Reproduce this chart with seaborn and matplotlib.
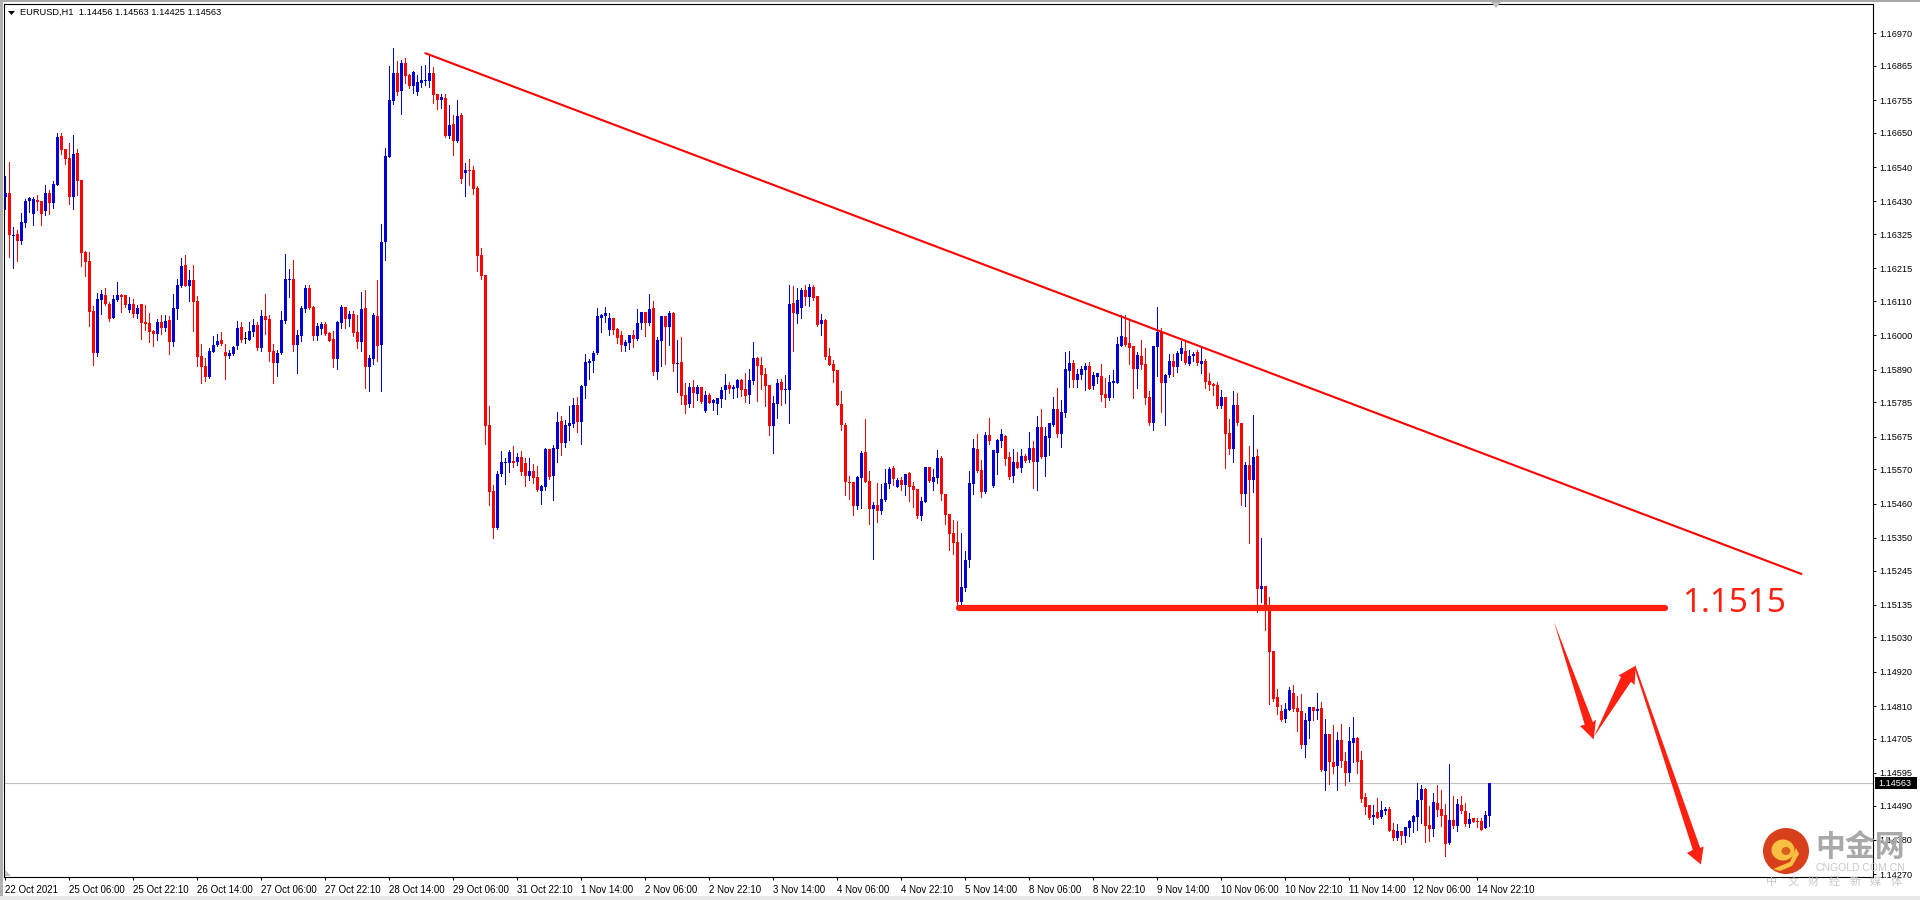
import numpy as np
import pandas as pd
import matplotlib.pyplot as plt
from matplotlib.patches import Polygon, Circle, Ellipse, Rectangle
import seaborn as sns

# EURUSD H1 candles, one line = 16 bars (one x tick)
opens = [
 1.16443,1.16456,1.16319,1.16326,1.16304,1.16362,1.16433,1.16390,1.16435,1.16432,1.16400,1.16457,1.16426,1.16484,1.16640,1.16599,
 1.16570,1.16445,1.16586,1.16499,1.16268,1.16239,1.16078,1.15943,1.16114,1.16130,1.16101,1.16056,1.16114,1.16130,1.16130,1.16081,
 1.16101,1.16069,1.16101,1.16043,1.16040,1.16014,1.16004,1.16043,1.16024,1.16049,1.15979,1.16085,1.16159,1.16226,1.16159,1.16178,
 1.16110,1.15934,1.15902,1.15866,1.15947,1.15969,1.15985,1.15947,1.15934,1.15940,1.15966,1.16027,1.15987,1.15985,1.16011,1.16033,
 1.15959,1.16062,1.16053,1.15950,1.15911,1.15943,1.16046,1.16178,1.16181,1.15969,1.15998,1.16085,1.16152,1.16091,1.15998,1.16020,
 1.16036,1.16008,1.15988,1.15924,1.16040,1.16091,1.16053,1.16069,1.16011,1.15979,1.16088,1.15898,1.15924,1.16062,1.15969,1.16300,
 1.16573,1.16753,1.16843,1.16785,1.16875,1.16836,1.16801,1.16782,1.16810,1.16817,1.16817,1.16843,1.16775,1.16756,1.16762,1.16640,
 1.16679,1.16624,1.16708,1.16521,1.16531,1.16531,1.16473,1.16258,1.16194,1.15712,1.15500,1.15381,1.15555,1.15590,1.15590,1.15596,
 1.15593,1.15609,1.15590,1.15548,1.15564,1.15545,1.15500,1.15513,1.15635,1.15548,1.15635,1.15725,1.15654,1.15709,1.15715,1.15776,
 1.15722,1.15837,1.15911,1.15918,1.15943,1.16056,1.16062,1.16017,1.16056,1.16020,1.16001,1.15966,1.15975,1.16001,1.15988,1.16040,
 1.16075,1.16040,1.16088,1.15882,1.15982,1.16062,1.16027,1.16072,1.15908,1.15914,1.15808,1.15779,1.15834,1.15812,1.15834,1.15757,
 1.15808,1.15783,1.15779,1.15795,1.15824,1.15840,1.15828,1.15831,1.15857,1.15828,1.15808,1.15853,1.15927,1.15905,1.15876,1.15840,
 1.15709,1.15779,1.15850,1.15824,1.15824,1.16104,1.16068,1.16088,1.16146,1.16123,1.16155,1.16126,1.16036,1.16049,1.15934,1.15908,
 1.15889,1.15779,1.15712,1.15529,1.15529,1.15452,1.15542,1.15625,1.15532,1.15442,1.15455,1.15436,1.15471,1.15523,1.15574,1.15513,
 1.15535,1.15519,1.15558,1.15516,1.15506,1.15420,1.15465,1.15577,1.15529,1.15542,1.15606,1.15491,1.15427,1.15366,1.15337,1.15144,
 1.15189,1.15279,1.15523,1.15635,1.15568,1.15497,1.15680,1.15517,1.15622,1.15661,1.15677,1.15610,1.15549,1.15594,1.15574,1.15613,
 1.15600,1.15639,1.15594,1.15706,1.15610,1.15671,1.15712,1.15764,1.15684,1.15751,1.15886,1.15912,1.15857,1.15873,1.15889,1.15902,
 1.15838,1.15867,1.15870,1.15812,1.15799,1.15847,1.15847,1.15966,1.15995,1.15976,1.15966,1.15892,1.15934,1.15908,1.15802,1.15719,
 1.15963,1.16011,1.15847,1.15873,1.15918,1.15899,1.15940,1.15950,1.15908,1.15934,1.15947,1.15908,1.15918,1.15854,1.15844,1.15841,
 1.15773,1.15802,1.15687,1.15635,1.15777,1.15719,1.15491,1.15584,1.15536,1.15613,1.15186,1.15195,1.15118,1.14987,1.14838,1.14793,
 1.14768,1.14797,1.14851,1.14803,1.14793,1.14684,1.14761,1.14806,1.14793,1.14803,1.14601,1.14720,1.14630,1.14617,1.14700,1.14633,
 1.14594,1.14691,1.14707,1.14636,1.14517,1.14492,1.14453,1.14469,1.14453,1.14472,1.14479,1.14411,1.14386,1.14408,1.14392,1.14418,
 1.14437,1.14453,1.14508,1.14543,1.14427,1.14415,1.14498,1.14479,1.14460,1.14370,1.14444,1.14424,1.14492,1.14472,1.14431,1.14450,
 1.14440,1.14440,1.14418,1.14456,
]
highs = [
 1.16512,1.16557,1.16347,1.16338,1.16392,1.16438,1.16445,1.16443,1.16451,1.16432,1.16483,1.16466,1.16495,1.16649,1.16649,1.16599,
 1.16617,1.16643,1.16599,1.16499,1.16270,1.16268,1.16094,1.16136,1.16146,1.16151,1.16107,1.16130,1.16171,1.16133,1.16130,1.16122,
 1.16117,1.16098,1.16101,1.16098,1.16072,1.16017,1.16053,1.16065,1.16065,1.16062,1.16133,1.16181,1.16248,1.16258,1.16210,1.16226,
 1.16126,1.15972,1.15927,1.15959,1.15998,1.16004,1.16011,1.15972,1.15953,1.15966,1.16046,1.16043,1.16011,1.16043,1.16053,1.16043,
 1.16081,1.16133,1.16065,1.15972,1.15953,1.16078,1.16261,1.16213,1.16242,1.16017,1.16094,1.16162,1.16162,1.16094,1.16040,1.16043,
 1.16043,1.16011,1.16014,1.16046,1.16098,1.16091,1.16078,1.16078,1.16065,1.16139,1.16146,1.15937,1.16072,1.16178,1.16358,1.16601,
 1.16865,1.16923,1.16881,1.16884,1.16891,1.16839,1.16849,1.16836,1.16865,1.16868,1.16900,1.16862,1.16775,1.16775,1.16775,1.16740,
 1.16708,1.16756,1.16714,1.16554,1.16566,1.16544,1.16480,1.16279,1.16194,1.15773,1.15519,1.15564,1.15629,1.15606,1.15632,1.15645,
 1.15622,1.15629,1.15606,1.15606,1.15587,1.15580,1.15519,1.15638,1.15635,1.15648,1.15754,1.15741,1.15728,1.15773,1.15799,1.15802,
 1.15840,1.15940,1.15924,1.15950,1.16088,1.16068,1.16091,1.16072,1.16056,1.16024,1.16014,1.15985,1.16001,1.16017,1.16085,1.16075,
 1.16075,1.16133,1.16110,1.15995,1.16062,1.16062,1.16078,1.16075,1.15985,1.15995,1.15847,1.15847,1.15857,1.15840,1.15834,1.15821,
 1.15815,1.15795,1.15799,1.15834,1.15876,1.15850,1.15840,1.15860,1.15860,1.15879,1.15892,1.15979,1.15930,1.15930,1.15895,1.15840,
 1.15805,1.15860,1.15860,1.15873,1.16162,1.16158,1.16152,1.16152,1.16162,1.16165,1.16162,1.16126,1.16068,1.16052,1.15959,1.15921,
 1.15889,1.15821,1.15718,1.15548,1.15529,1.15548,1.15629,1.15731,1.15564,1.15465,1.15526,1.15523,1.15571,1.15577,1.15580,1.15542,
 1.15545,1.15555,1.15561,1.15529,1.15506,1.15481,1.15577,1.15577,1.15571,1.15632,1.15613,1.15491,1.15427,1.15407,1.15404,1.15366,
 1.15308,1.15565,1.15668,1.15684,1.15600,1.15690,1.15735,1.15632,1.15668,1.15700,1.15680,1.15626,1.15635,1.15626,1.15635,1.15619,
 1.15690,1.15661,1.15741,1.15764,1.15706,1.15719,1.15802,1.15831,1.15793,1.15947,1.15950,1.15921,1.15892,1.15902,1.15912,1.15915,
 1.15883,1.15879,1.15908,1.15863,1.15873,1.15889,1.15995,1.16066,1.16066,1.16053,1.15966,1.15947,1.15985,1.15960,1.15822,1.15966,
 1.16091,1.16024,1.15876,1.15940,1.15940,1.15950,1.15982,1.15985,1.15953,1.15947,1.15953,1.15960,1.15924,1.15879,1.15847,1.15851,
 1.15825,1.15802,1.15732,1.15822,1.15815,1.15719,1.15594,1.15645,1.15745,1.15635,1.15350,1.15195,1.15161,1.14987,1.14864,1.14813,
 1.14819,1.14870,1.14877,1.14842,1.14848,1.14787,1.14806,1.14806,1.14851,1.14822,1.14768,1.14720,1.14748,1.14726,1.14752,1.14662,
 1.14742,1.14774,1.14710,1.14665,1.14530,1.14492,1.14492,1.14514,1.14504,1.14485,1.14485,1.14434,1.14431,1.14408,1.14421,1.14444,
 1.14460,1.14562,1.14556,1.14546,1.14488,1.14530,1.14556,1.14540,1.14495,1.14623,1.14521,1.14511,1.14521,1.14498,1.14466,1.14450,
 1.14450,1.14450,1.14472,1.14563,
]
lows = [
 1.16405,1.16253,1.16217,1.16240,1.16293,1.16349,1.16396,1.16356,1.16403,1.16354,1.16387,1.16390,1.16409,1.16484,1.16582,1.16550,
 1.16422,1.16406,1.16451,1.16223,1.16191,1.16030,1.15905,1.15934,1.16069,1.16098,1.16046,1.16056,1.16110,1.16075,1.16091,1.16075,
 1.16059,1.16056,1.15988,1.16017,1.15979,1.15966,1.15985,1.16004,1.16014,1.15940,1.15966,1.16053,1.16155,1.16159,1.16110,1.16014,
 1.15902,1.15847,1.15853,1.15863,1.15947,1.15966,1.15969,1.15860,1.15927,1.15937,1.15956,1.15979,1.15975,1.15985,1.15998,1.15953,
 1.15950,1.16004,1.15918,1.15847,1.15870,1.15940,1.16040,1.16123,1.15950,1.15879,1.15982,1.16075,1.16085,1.15985,1.15985,1.16004,
 1.16001,1.15982,1.15898,1.15892,1.16024,1.16024,1.16030,1.15998,1.15959,1.15950,1.15831,1.15822,1.15908,1.15918,1.15822,1.16242,
 1.16573,1.16743,1.16772,1.16711,1.16810,1.16794,1.16778,1.16772,1.16798,1.16804,1.16798,1.16746,1.16727,1.16730,1.16637,1.16634,
 1.16579,1.16621,1.16489,1.16448,1.16483,1.16454,1.16207,1.16181,1.15651,1.15455,1.15349,1.15378,1.15548,1.15523,1.15561,1.15577,
 1.15584,1.15551,1.15516,1.15535,1.15526,1.15500,1.15458,1.15503,1.15539,1.15471,1.15593,1.15616,1.15641,1.15664,1.15706,1.15690,
 1.15651,1.15799,1.15860,1.15882,1.15940,1.16011,1.16043,1.16001,1.16004,1.15975,1.15950,1.15950,1.15956,1.15962,1.15985,1.16020,
 1.15998,1.16033,1.15873,1.15860,1.15901,1.15908,1.15969,1.15885,1.15818,1.15779,1.15751,1.15770,1.15770,1.15792,1.15783,1.15754,
 1.15783,1.15760,1.15747,1.15770,1.15795,1.15815,1.15799,1.15802,1.15805,1.15786,1.15783,1.15844,1.15789,1.15828,1.15773,1.15680,
 1.15622,1.15734,1.15776,1.15783,1.15718,1.15950,1.16040,1.16056,1.16097,1.16094,1.16113,1.16030,1.16001,1.15924,1.15905,1.15850,
 1.15776,1.15696,1.15487,1.15474,1.15423,1.15442,1.15445,1.15529,1.15394,1.15282,1.15401,1.15426,1.15468,1.15510,1.15519,1.15513,
 1.15503,1.15487,1.15468,1.15449,1.15413,1.15407,1.15465,1.15529,1.15503,1.15526,1.15472,1.15394,1.15311,1.15298,1.15134,1.15134,
 1.15179,1.15256,1.15491,1.15562,1.15481,1.15494,1.15651,1.15513,1.15555,1.15642,1.15584,1.15539,1.15529,1.15574,1.15562,1.15594,
 1.15594,1.15510,1.15504,1.15606,1.15549,1.15616,1.15709,1.15674,1.15642,1.15738,1.15834,1.15834,1.15834,1.15860,1.15825,1.15828,
 1.15828,1.15847,1.15790,1.15770,1.15793,1.15802,1.15847,1.15966,1.15966,1.15908,1.15799,1.15831,1.15892,1.15780,1.15712,1.15696,
 1.15870,1.15754,1.15712,1.15867,1.15870,1.15883,1.15921,1.15908,1.15905,1.15918,1.15905,1.15879,1.15831,1.15825,1.15809,1.15767,
 1.15767,1.15574,1.15619,1.15594,1.15712,1.15456,1.15452,1.15333,1.15497,1.15112,1.15144,1.15054,1.14816,1.14826,1.14784,1.14761,
 1.14758,1.14797,1.14793,1.14729,1.14675,1.14646,1.14707,1.14765,1.14768,1.14601,1.14540,1.14559,1.14594,1.14540,1.14614,1.14556,
 1.14569,1.14630,1.14594,1.14501,1.14463,1.14447,1.14431,1.14450,1.14450,1.14463,1.14408,1.14379,1.14379,1.14366,1.14373,1.14392,
 1.14405,1.14411,1.14434,1.14373,1.14376,1.14392,1.14456,1.14424,1.14328,1.14366,1.14418,1.14408,1.14466,1.14424,1.14421,1.14437,
 1.14421,1.14411,1.14418,1.14425,
]
closes = [
 1.16456,1.16323,1.16322,1.16304,1.16364,1.16432,1.16440,1.16438,1.16428,1.16391,1.16456,1.16425,1.16486,1.16637,1.16596,1.16566,
 1.16444,1.16582,1.16496,1.16264,1.16236,1.16075,1.15943,1.16117,1.16133,1.16101,1.16053,1.16117,1.16130,1.16123,1.16098,1.16101,
 1.16069,1.16088,1.16040,1.16036,1.16011,1.16004,1.16043,1.16024,1.16046,1.15979,1.16088,1.16162,1.16223,1.16159,1.16178,1.16107,
 1.15931,1.15898,1.15866,1.15950,1.15969,1.15982,1.15972,1.15934,1.15943,1.15963,1.16024,1.15985,1.15987,1.16014,1.16033,1.15959,
 1.16062,1.16049,1.15947,1.15911,1.15943,1.16049,1.16181,1.16181,1.15969,1.16001,1.16088,1.16152,1.16088,1.15998,1.16030,1.16036,
 1.16004,1.15982,1.15924,1.16043,1.16091,1.16053,1.16069,1.16008,1.15979,1.16085,1.15898,1.15927,1.16065,1.15966,1.16300,1.16576,
 1.16756,1.16843,1.16782,1.16875,1.16833,1.16801,1.16846,1.16814,1.16820,1.16820,1.16843,1.16772,1.16756,1.16765,1.16640,1.16676,
 1.16624,1.16704,1.16502,1.16531,1.16528,1.16470,1.16255,1.16191,1.15709,1.15497,1.15381,1.15555,1.15593,1.15593,1.15625,1.15590,
 1.15609,1.15561,1.15548,1.15564,1.15542,1.15503,1.15516,1.15635,1.15545,1.15638,1.15722,1.15654,1.15712,1.15718,1.15776,1.15722,
 1.15837,1.15914,1.15918,1.15943,1.16062,1.16065,1.16072,1.16056,1.16017,1.15991,1.15969,1.15979,1.16001,1.15988,1.16040,1.16075,
 1.16040,1.16085,1.15882,1.15985,1.16062,1.16027,1.16072,1.15908,1.15911,1.15805,1.15776,1.15834,1.15815,1.15834,1.15786,1.15808,
 1.15783,1.15792,1.15799,1.15824,1.15840,1.15828,1.15834,1.15857,1.15824,1.15805,1.15857,1.15927,1.15901,1.15873,1.15837,1.15709,
 1.15783,1.15847,1.15824,1.15828,1.16101,1.16072,1.16113,1.16146,1.16123,1.16155,1.16120,1.16033,1.16049,1.15930,1.15905,1.15885,
 1.15776,1.15712,1.15529,1.15526,1.15452,1.15545,1.15622,1.15529,1.15442,1.15455,1.15436,1.15474,1.15526,1.15571,1.15539,1.15535,
 1.15519,1.15555,1.15513,1.15503,1.15420,1.15468,1.15577,1.15532,1.15545,1.15606,1.15491,1.15423,1.15362,1.15333,1.15144,1.15192,
 1.15279,1.15526,1.15639,1.15565,1.15497,1.15680,1.15661,1.15632,1.15664,1.15684,1.15603,1.15545,1.15594,1.15574,1.15613,1.15597,
 1.15639,1.15594,1.15706,1.15610,1.15677,1.15719,1.15764,1.15684,1.15754,1.15892,1.15912,1.15857,1.15876,1.15892,1.15902,1.15828,
 1.15873,1.15879,1.15809,1.15799,1.15851,1.15854,1.15973,1.15998,1.15969,1.15960,1.15892,1.15937,1.15905,1.15799,1.15719,1.15966,
 1.16011,1.15847,1.15873,1.15918,1.15899,1.15944,1.15960,1.15912,1.15934,1.15940,1.15912,1.15918,1.15851,1.15841,1.15838,1.15773,
 1.15802,1.15684,1.15635,1.15777,1.15719,1.15491,1.15584,1.15536,1.15610,1.15186,1.15195,1.15134,1.14983,1.14832,1.14806,1.14765,
 1.14800,1.14861,1.14800,1.14790,1.14684,1.14765,1.14806,1.14793,1.14800,1.14604,1.14720,1.14630,1.14614,1.14700,1.14633,1.14594,
 1.14697,1.14707,1.14630,1.14511,1.14485,1.14450,1.14459,1.14450,1.14475,1.14479,1.14408,1.14386,1.14408,1.14392,1.14421,1.14440,
 1.14456,1.14508,1.14543,1.14424,1.14415,1.14501,1.14476,1.14456,1.14366,1.14444,1.14424,1.14495,1.14472,1.14431,1.14447,1.14437,
 1.14437,1.14411,1.14460,1.14563,
]

date_labels = ['22 Oct 2021', '25 Oct 06:00', '25 Oct 22:10', '26 Oct 14:00', '27 Oct 06:00', '27 Oct 22:10',
               '28 Oct 14:00', '29 Oct 06:00', '31 Oct 22:10', '1 Nov 14:00', '2 Nov 06:00', '2 Nov 22:10',
               '3 Nov 14:00', '4 Nov 06:00', '4 Nov 22:10', '5 Nov 14:00', '8 Nov 06:00', '8 Nov 22:10',
               '9 Nov 14:00', '10 Nov 06:00', '10 Nov 22:10', '11 Nov 14:00', '12 Nov 06:00', '14 Nov 22:10']
price_ticks = ['1.16970', '1.16865', '1.16755', '1.16650', '1.16540', '1.16430', '1.16325', '1.16215', '1.16110',
               '1.16000', '1.15890', '1.15785', '1.15675', '1.15570', '1.15460', '1.15350', '1.15245', '1.15135',
               '1.15030', '1.14920', '1.14810', '1.14705', '1.14595', '1.14490', '1.14380', '1.14270']
sub_chars = ['中', '文', '财', '经', '新', '媒', '体']

last_price = 1.14563
trend_bars = [105, 449]
trend_prices = [1.16906, 1.15234]
level_bars = [238.5, 415]
level_prices = [1.15125, 1.15125]

RED = '#ff2010'
UI = ['Liberation Sans', 'DejaVu Sans']
CJK = ['Noto Sans CJK SC', 'DejaVu Sans']

sns.set_theme(style='white')
plt.rcParams['font.family'] = UI
plt.rcParams['axes.unicode_minus'] = False

df = pd.DataFrame({'open': opens, 'high': highs, 'low': lows, 'close': closes})
df['bar'] = df.index
df['colour'] = np.where(df.close > df.open, '#0000d8', np.where(df.close < df.open, '#ff0000', '#000000'))

fig = plt.figure(figsize=(19.2, 9), dpi=100, facecolor='white')
ax = fig.add_axes([4 / 1920, 1 - 877 / 900, 1869 / 1920, 873 / 900])

ax.vlines(df.bar, df.low, df.high, colors=df.colour, linewidth=0.72, antialiased=False, zorder=2)
ax.bar(df.bar, np.maximum((df.close - df.open).abs(), 0.00003), bottom=df[['open', 'close']].min(axis=1),
       width=0.72, color=df.colour, linewidth=0, antialiased=False, zorder=3)

ax.axhline(last_price, color='#c0c0c0', linewidth=0.8, zorder=1)
sns.lineplot(x=trend_bars, y=trend_prices, ax=ax, color='#ff0000', linewidth=1.5, estimator=None, zorder=4)
sns.lineplot(x=level_bars, y=level_prices, ax=ax, color=RED, linewidth=4.5, estimator=None, zorder=4,
             solid_capstyle='round')

ax.set_xlim(-0.325, 466.9)
ax.set_ylim(1.14261, 1.17064)
ax.set_xlabel('')
ax.set_ylabel('')

ax.yaxis.tick_right()
ax.set_yticks([float(t) for t in price_ticks], price_ticks)
ax.set_xticks(np.arange(len(date_labels)) * 16, date_labels, ha='left')
ax.tick_params(axis='both', length=2.5, width=0.72, color='black', labelcolor='black', labelsize=7, pad=2,
               bottom=True, right=True, left=False)
ax.tick_params(axis='x', pad=3)
ax.tick_params(axis='y', labelsize=6.6)
for s in ax.spines.values():
    s.set_visible(True)
    s.set_color('black')
    s.set_linewidth(0.8)

# overlay in screen pixels for the drawn-on notes, window chrome and the watermark
ov = fig.add_axes([0, 0, 1, 1], facecolor='none')
ov.set_xlim(0, 1920)
ov.set_ylim(900, 0)
ov.axis('off')

ov.add_patch(Rectangle((0, 0), 1920, 2, color='#a8a8a8', lw=0))
ov.add_patch(Rectangle((0, 0), 3, 900, color='#b0b0b0', lw=0))
ov.add_patch(Rectangle((0, 896), 1920, 4, color='#e6e6e6', lw=0))
ov.add_patch(Polygon([(1491, 2), (1501, 2), (1496, 8)], color='#c0c0c0', lw=0))
ov.add_patch(Polygon([(5, 870), (5, 876), (11, 876)], color='#c0c0c0', lw=0))
ov.add_patch(Polygon([(8, 11), (15, 11), (11.5, 15)], color='black', lw=0))
ov.text(20, 12, 'EURUSD,H1  1.14456 1.14563 1.14425 1.14563', fontsize=6.7, color='black', va='center', ha='left')

ov.add_patch(Rectangle((1875, 777), 42, 12, color='black', lw=0))
ov.text(1895, 783, '1.14563', fontsize=6.6, color='white', va='center', ha='center')

ov.text(1682, 604, '1.1515', fontsize=24, color=RED, va='center', ha='left', family='Noto Sans')

for pts in [
    [(1554, 622), (1592.8, 722), (1595.9, 719.7), (1593.7, 739.5), (1580, 726), (1584.7, 724.6)],
    [(1594, 736.7), (1621, 677), (1618.6, 675.5), (1636, 665.5), (1634.5, 685), (1631, 681.7)],
    [(1634.3, 667.3), (1692.8, 849.8), (1687, 853), (1700.9, 864.5), (1703.6, 846.5), (1700.2, 847.8), (1636, 667.3)],
]:
    ov.add_patch(Polygon(pts, closed=True, color=RED, lw=0, zorder=5))

# watermark
ov.add_patch(Circle((1786, 851), 23, color='#d8401c', lw=0, zorder=6))
ov.add_patch(Ellipse((1783, 850), 23, 21, color='#f8c040', lw=0, zorder=7))
ov.add_patch(Ellipse((1786, 851), 9, 8, color='#d8601c', lw=0, zorder=8))
ov.add_patch(Polygon([(1773, 869), (1790, 862), (1796, 848), (1799, 854), (1792, 866), (1780, 871)],
                     color='#f8c040', lw=0, zorder=7))
ov.text(1860, 847, '中金网', fontsize=21.5, color='#a9a9a9', va='center', ha='center', family=CJK, fontweight='bold', zorder=6)
ov.text(1860, 868, 'CNGOLD.COM.CN', fontsize=7.5, color='#c8c8c8', va='center', ha='center', zorder=6)
for n, ch in enumerate(sub_chars):
    ov.text(1772 + n * 20.7, 882, ch, fontsize=8, color='#c8c8c8', va='center', ha='center', family=CJK, zorder=6)

fig.savefig('out.png', dpi=100)
